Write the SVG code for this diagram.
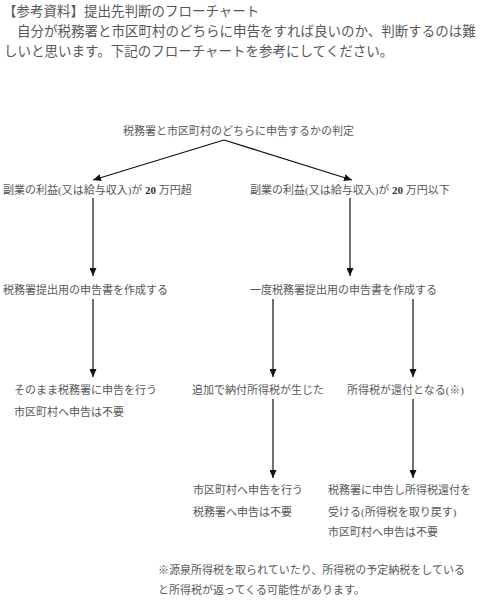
<svg xmlns="http://www.w3.org/2000/svg" width="500" height="608" viewBox="0 0 500 608">
<style>
text{font-family:"Liberation Serif","Noto Sans CJK JP",serif;fill:#585858;}
.h{font-size:13.5px;}
.n{font-size:11px;}
.b{font-weight:bold;fill:#333;}
.c{stroke:#111;stroke-width:1.2;fill:none;}
</style>
<defs>
<marker id="ah" markerUnits="userSpaceOnUse" markerWidth="8" markerHeight="7" refX="8" refY="3.5" orient="auto">
<path d="M0,0 L8,3.5 L0,7 z" fill="#111"/>
</marker>
</defs>
<rect width="500" height="608" fill="#fff"/>
<g id="intro">
<text class="h" x="3" y="16">【参考資料】提出先判断のフローチャート</text>
<text class="h" x="3.5" y="36">　自分が税務署と市区町村のどちらに申告をすれば良いのか、判断するのは難</text>
<text class="h" x="4" y="56">しいと思います。下記のフローチャートを参考にしてください。</text>
</g>
<g id="connectors">
<path class="c" d="M224,140 L93,180" marker-end="url(#ah)"/>
<path class="c" d="M224,140 L352,180" marker-end="url(#ah)"/>
<path class="c" d="M93,198 L93,276" marker-end="url(#ah)"/>
<path class="c" d="M350,198 L350,276" marker-end="url(#ah)"/>
<path class="c" d="M93,299 L93,377" marker-end="url(#ah)"/>
<path class="c" d="M273,299 L273,377" marker-end="url(#ah)"/>
<path class="c" d="M413,299 L413,377" marker-end="url(#ah)"/>
<path class="c" d="M273,399 L273,478" marker-end="url(#ah)"/>
<path class="c" d="M413,399 L413,478" marker-end="url(#ah)"/>
</g>
<g id="root"><text class="n" x="123" y="135">税務署と市区町村のどちらに申告するかの判定</text></g>
<g id="over20"><text class="n" x="3" y="194">副業の利益(又は給与収入)が <tspan class="b">20</tspan> 万円超</text></g>
<g id="under20"><text class="n" x="250" y="194">副業の利益(又は給与収入)が <tspan class="b">20</tspan> 万円以下</text></g>
<g id="create1"><text class="n" x="3" y="294">税務署提出用の申告書を作成する</text></g>
<g id="create2"><text class="n" x="250" y="294">一度税務署提出用の申告書を作成する</text></g>
<g id="result1">
<text class="n" x="14" y="394">そのまま税務署に申告を行う</text>
<text class="n" x="14" y="416">市区町村へ申告は不要</text>
</g>
<g id="additional"><text class="n" x="192" y="394">追加で納付所得税が生じた</text></g>
<g id="refund"><text class="n" x="347" y="394">所得税が還付となる(※)</text></g>
<g id="result2">
<text class="n" x="193" y="494">市区町村へ申告を行う</text>
<text class="n" x="193" y="516">税務署へ申告は不要</text>
</g>
<g id="result3">
<text class="n" x="328" y="494">税務署に申告し所得税還付を</text>
<text class="n" x="328" y="516">受ける(所得税を取り戻す)</text>
<text class="n" x="328" y="536">市区町村へ申告は不要</text>
</g>
<g id="note">
<text class="n" x="158" y="574">※源泉所得税を取られていたり、所得税の予定納税をしている</text>
<text class="n" x="158" y="594">と所得税が返ってくる可能性があります。</text>
</g>
</svg>
